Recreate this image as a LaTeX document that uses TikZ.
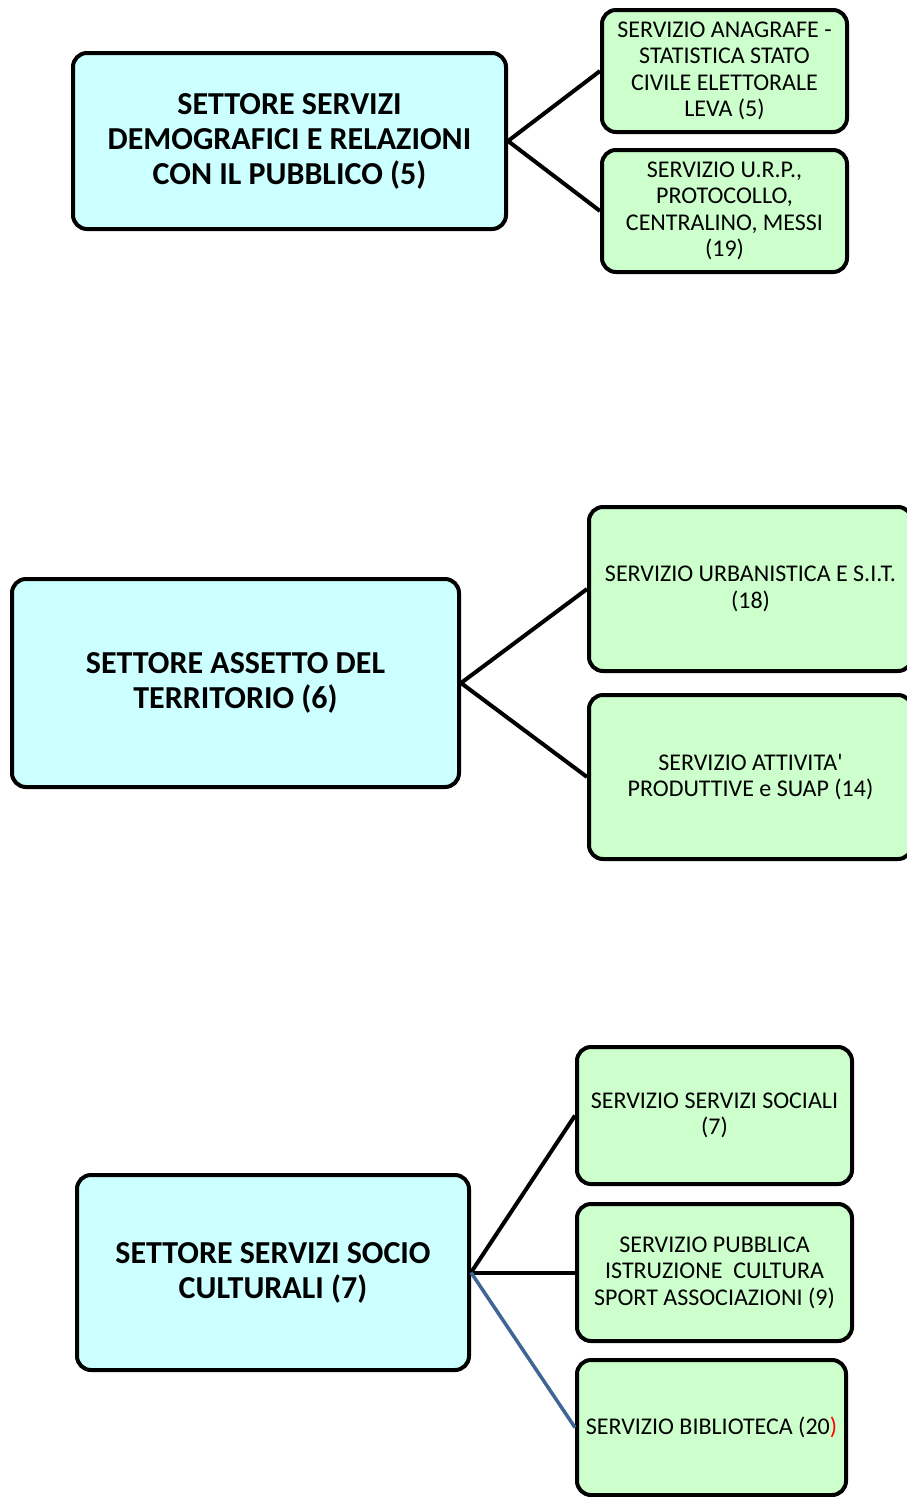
\documentclass[tikz,border=0pt]{standalone}
\usepackage{fontspec}
\setmainfont{Carlito}
\begin{document}
\begin{tikzpicture}[x=1pt,y=-1pt,
  box/.style={draw=black, line width=4pt, rounded corners=14pt, align=center, inner sep=0pt},
  settore/.style={box, fill=settorefill, font=\fontsize{32}{35}\selectfont\bfseries},
  servizio/.style={box, fill=serviziofill, font=\fontsize{24}{26.5}\selectfont},
  link/.style={draw=black, line width=4pt},
  bluelink/.style={draw=linkblue, line width=3.5pt}]
\definecolor{settorefill}{HTML}{CCFFFF}
\definecolor{serviziofill}{HTML}{CCFFCC}
\definecolor{linkblue}{HTML}{3F6597}
\useasboundingbox (0,0) rectangle (907,1497);
\clip (0,0) rectangle (907,1497);

% Settore servizi demografici
\node[settore, minimum width=433, minimum height=176] (sdem) at (289.5,141)
  {SETTORE SERVIZI\\DEMOGRAFICI E RELAZIONI\\CON IL PUBBLICO (5)};
\node[servizio, minimum width=245, minimum height=122] (anag) at (724.5,71)
  {SERVIZIO ANAGRAFE -\\STATISTICA STATO\\CIVILE ELETTORALE\\LEVA (5)};
\node[servizio, minimum width=245, minimum height=122] (urp) at (724.5,211)
  {SERVIZIO U.R.P.,\\PROTOCOLLO,\\CENTRALINO, MESSI\\(19)};
\draw[link] (sdem.east) -- (anag.west);
\draw[link] (sdem.east) -- (urp.west);

% Settore assetto del territorio
\node[settore, minimum width=447, minimum height=208] (sass) at (235.5,683)
  {SETTORE ASSETTO DEL\\TERRITORIO (6)};
\node[servizio, minimum width=323, minimum height=164] (urb) at (750.5,589)
  {SERVIZIO URBANISTICA E S.I.T.\\(18)};
\node[servizio, minimum width=323, minimum height=164] (attiv) at (750.5,777)
  {SERVIZIO ATTIVITA\textquotesingle\\PRODUTTIVE e SUAP (14)};
\draw[link] (sass.east) -- (urb.west);
\draw[link] (sass.east) -- (attiv.west);

% Settore servizi socio culturali
\node[settore, minimum width=392, minimum height=195] (ssoc) at (273,1272.5)
  {SETTORE SERVIZI SOCIO\\CULTURALI (7)};
\node[servizio, minimum width=275, minimum height=137] (soc) at (714.5,1115.5)
  {SERVIZIO SERVIZI SOCIALI\\(7)};
\node[servizio, minimum width=275, minimum height=137] (istr) at (714.5,1272.5)
  {SERVIZIO PUBBLICA\\ISTRUZIONE\ \ CULTURA\\SPORT ASSOCIAZIONI (9)};
\node[servizio, minimum width=269, minimum height=135] (bibl) at (711.5,1427.5)
  {SERVIZIO BIBLIOTECA (20\textcolor{red}{)}};
\draw[link] (ssoc.east) -- (soc.west);
\draw[link] (ssoc.east) -- (istr.west);
\draw[bluelink] (ssoc.east) -- (bibl.west);
\end{tikzpicture}
\end{document}
